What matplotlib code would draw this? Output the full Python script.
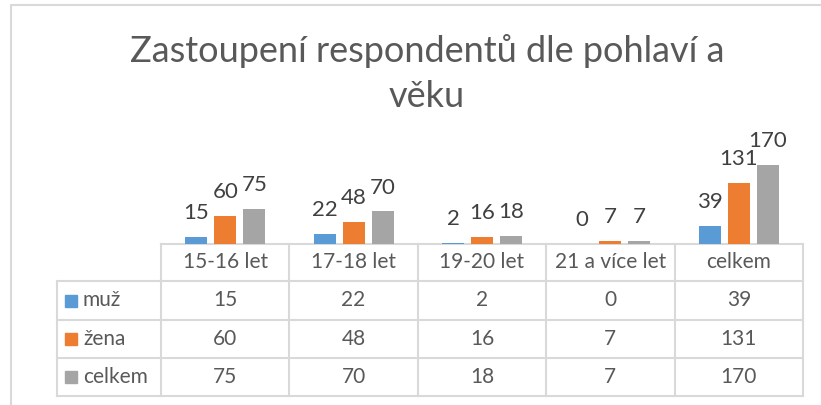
#! /usr/bin/env python3
# Zastoupeni respondentu dle pohlavi a veku - bar chart with a data table under it.

import matplotlib.pyplot as plt
from matplotlib.patches import Rectangle
import numpy as np

categories = ["15-16 let", "17-18 let", "19-20 let", "21 a více let", "celkem"]
series_names = ["muž", "žena", "celkem"]
muz = [15, 22, 2, 0, 39]
zena = [60, 48, 16, 7, 131]
celkem = [75, 70, 18, 7, 170]

colors = ["#5B9BD5", "#ED7D31", "#A5A5A5"]
text_color = "#595959"
grid_color = "#D9D9D9"

plt.rcParams['font.family'] = ['Lato', 'DejaVu Sans']

W, H = 821, 405
fig = plt.figure(figsize=(W / 100, H / 100), dpi=100)

# layout in pixels (from the top left corner)
tab_left, lab_right, tab_right = 57, 161, 803
row_lines = [244, 281, 320, 358, 396]
col_w = (tab_right - lab_right) / len(categories)
px_per_unit = 0.465
ymax = 200

# ----------------------------------------------------------------------------------------
# Bars
# ----------------------------------------------------------------------------------------

ax = fig.add_axes([lab_right / W, (H - row_lines[0]) / H,
                   (tab_right - lab_right) / W, ymax * px_per_unit / H])
x = np.arange(len(categories))
bar_w = 22 / col_w
step = 29 / col_w
for i, (vals, col) in enumerate(zip([muz, zena, celkem], colors)):
    bars = ax.bar(x + (i - 1) * step, vals, width=bar_w, color=col)
    ax.bar_label(bars, labels=[str(v) for v in vals], padding=10,
                 fontsize=16, color="#404040")
ax.set_xlim(-0.5, len(categories) - 0.5)
ax.set_ylim(0, ymax)
ax.axis('off')

# ----------------------------------------------------------------------------------------
# Overlay in pixel coordinates: border, title, data table
# ----------------------------------------------------------------------------------------

ov = fig.add_axes([0, 0, 1, 1], zorder=-1)
ov.set_xlim(0, W)
ov.set_ylim(H, 0)
ov.axis('off')

# chart area border (right and bottom edges are off the picture)
ov.plot([11, 11, W + 5], [H + 5, 5, 5], color=grid_color, lw=1.5)

ov.text(427, 62, "Zastoupení respondentů dle pohlaví a", ha='center', va='baseline',
        fontsize=26, color=text_color)
ov.text(427, 107, "věku", ha='center', va='baseline',
        fontsize=26, color=text_color)

# table grid
ov.plot([lab_right, tab_right], [row_lines[0]] * 2, color=grid_color, lw=1.5)
for yl in row_lines[1:]:
    ov.plot([tab_left, tab_right], [yl, yl], color=grid_color, lw=1.5)
ov.plot([tab_left, tab_left], [row_lines[1], row_lines[-1]], color=grid_color, lw=1.5)
for j in range(len(categories) + 1):
    xl = lab_right + j * col_w
    ov.plot([xl, xl], [row_lines[0], row_lines[-1]], color=grid_color, lw=1.5)

for j, cat in enumerate(categories):
    ov.text(lab_right + (j + 0.5) * col_w, (row_lines[0] + row_lines[1]) / 2, cat,
            ha='center', va='center', fontsize=15, color=text_color)

for r, (name, vals, col) in enumerate(zip(series_names, [muz, zena, celkem], colors)):
    yc = (row_lines[r + 1] + row_lines[r + 2]) / 2
    ov.add_patch(Rectangle((65, yc - 6), 12, 12, color=col))
    ov.text(83, yc, name, ha='left', va='center', fontsize=15, color=text_color)
    for j, v in enumerate(vals):
        ov.text(lab_right + (j + 0.5) * col_w, yc, str(v),
                ha='center', va='center', fontsize=15, color=text_color)

fig.savefig("out.png", dpi=100)
